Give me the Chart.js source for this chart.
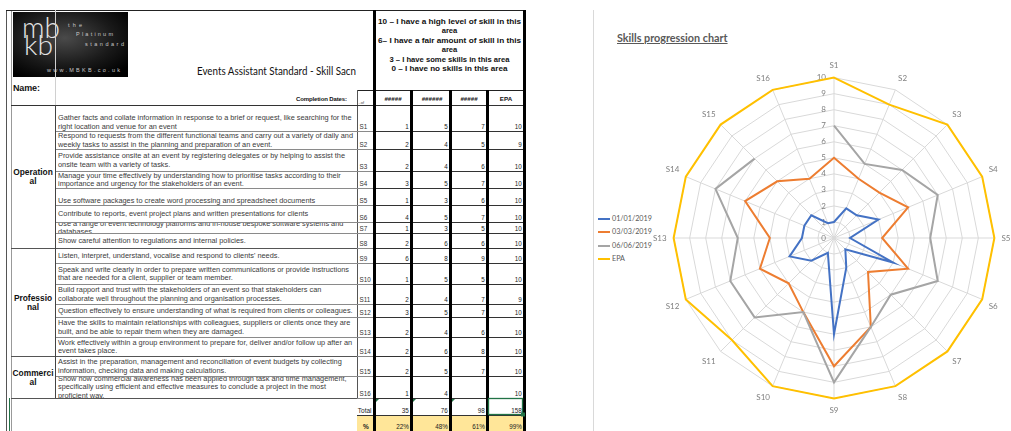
<!DOCTYPE html>
<html>
<head>
<meta charset="utf-8">
<title>Events Assistant Standard - Skill Scan</title>
<script src="https://cdn.jsdelivr.net/npm/chart.js@4.4.1/dist/chart.umd.min.js"></script>
<style>
  html, body { margin: 0; padding: 0; background: #fff; }
  body { width: 1011px; height: 431px; position: relative; overflow: hidden; }
  #sheet { position: absolute; left: 0; top: 0; }
  #panelEdge { position: absolute; left: 593px; top: 10px; width: 1px; height: 421px; background: #d9d9d9; }
  #chartTitle { position: absolute; left: 617px; top: 31px; font: bold 10.8px Lato, sans-serif; color: #595959; text-decoration: underline; white-space: nowrap; }
  #legend { position: absolute; left: 598px; top: 211.5px; font: 7.2px Lato, sans-serif; color: #595959; }
  #legend div { height: 13.5px; line-height: 13.5px; white-space: nowrap; position: relative; padding-left: 14px; }
  #legend span { position: absolute; left: 0; top: 6px; width: 12px; height: 2px; }
  #radar { position: absolute; left: 594px; top: 10px; }
</style>
</head>
<body>
<svg id="sheet" width="590" height="431" xmlns="http://www.w3.org/2000/svg">
  <defs>
    <radialGradient id="logoBg" cx="45%" cy="40%" r="70%">
      <stop offset="0" stop-color="#4a4a4a"/>
      <stop offset="0.6" stop-color="#1a1a1a"/>
      <stop offset="1" stop-color="#000"/>
    </radialGradient>
  </defs>
</svg>
<div id="panelEdge"></div>
<div id="chartTitle">Skills progression chart</div>
<div id="legend"></div>
<canvas id="radar" width="419" height="421"></canvas>

<script>
// ---- data ----
const skills = ['S1', 'S2', 'S3', 'S4', 'S5', 'S6', 'S7', 'S8', 'S9', 'S10', 'S11', 'S12', 'S13', 'S14', 'S15', 'S16'];
const descriptions = [
  '\nGather facts and collate information in response to a brief or request, like searching for the\nright location and venue for an event',
  'Respond to requests from the different functional teams and carry out a variety of daily and\nweekly tasks to assist in the planning and preparation of an event.',
  'Provide assistance onsite at an event by registering delegates or by helping to assist the\nonsite team with a variety of tasks.',
  'Manage your time effectively by understanding how to prioritise tasks according to their\nimportance and urgency for the stakeholders of an event.',
  '\nUse software packages to create word processing and spreadsheet documents',
  'Contribute to reports, event project plans and written presentations for clients',
  'Use a range of event technology platforms and in-house bespoke software systems and\ndatabases',
  'Show careful attention to regulations and internal policies.',
  'Listen, interpret, understand, vocalise and respond to clients\' needs.',
  'Speak and write clearly in order to prepare written communications or provide instructions\nthat are needed for a client, supplier or team member.',
  'Build rapport and trust with the stakeholders of an event so that stakeholders can\ncollaborate well throughout the planning and organisation processes.',
  'Question effectively to ensure understanding of what is required from clients or colleagues.',
  'Have the skills to maintain relationships with colleagues, suppliers or clients once they are\nbuilt, and be able to repair them when they are damaged.',
  'Work effectively within a group environment to prepare for, deliver and/or follow up after an\nevent takes place.',
  'Assist in the preparation, management and reconciliation of event budgets by collecting\ninformation, checking data and making calculations.',
  'Show how commercial awareness has been applied through task and time management,\nspecifically using efficient and effective measures to conclude a project in the most\nproficient way.'
];
const categories = ['Operation\nal', 'Professio\nnal', 'Commerci\nal'];
const categorySizes = [8, 6, 2];

const seriesNames = ['01/01/2019', '03/03/2019', '06/06/2019', 'EPA'];
const scoresJan = [1, 2, 2, 3, 1, 4, 1, 2, 6, 1, 2, 3, 2, 2, 2, 1];
const scoresMar = [5, 4, 4, 5, 3, 5, 3, 6, 8, 5, 4, 5, 4, 6, 5, 4];
const scoresJun = [7, 5, 6, 7, 6, 7, 5, 6, 9, 5, 7, 7, 6, 8, 7, null];
const scoresEPA = [10, 9, 10, 10, 10, 10, 10, 10, 10, 10, 9, 10, 10, 10, 10, 10];
const tickLabels = [0, 1, 2, 3, 4, 5, 6, 7, 8, 9, 10];
const maxScore = 10;

const seriesValues = [scoresJan, scoresMar, scoresJun, scoresEPA];
const seriesColors = ['#4472C4', '#ED7D31', '#A5A5A5', '#FFC000'];

// ---- spreadsheet (left side) ----
const NS = 'http://www.w3.org/2000/svg';
const sheet = document.getElementById('sheet');
function add(parent, tag, attrs, txt) {
  const e = document.createElementNS(NS, tag);
  for (const k in attrs) e.setAttribute(k, attrs[k]);
  if (txt != null) e.textContent = txt;
  parent.appendChild(e);
  return e;
}
function hline(x1, x2, y, c, t) { add(sheet, 'rect', {x: x1, y: y, width: x2 - x1, height: t || 1, fill: c}); }
function vline(x, y1, y2, c, t) { add(sheet, 'rect', {x: x, y: y1, width: t || 1, height: y2 - y1, fill: c}); }
function text(parent, x, y, s, a) {
  const attrs = Object.assign({x: x, y: y, 'font-family': 'Liberation Sans, Arial, sans-serif', 'font-size': 7, fill: '#222'}, a || {});
  return add(parent, 'text', attrs, s);
}

const rowEdges = [105, 131, 149, 171, 188, 205, 222, 233, 248, 263, 284, 304, 317, 337, 356, 376, 398];
const colRight = [410, 449, 486, 523];

// logo
add(sheet, 'rect', {x: 13, y: 12, width: 115, height: 65, fill: 'url(#logoBg)'});
text(sheet, 22, 38, 'mb', {'font-family': 'Lato', 'font-weight': 300, 'font-size': 30, fill: '#e4e4e4', textLength: 38, lengthAdjust: 'spacingAndGlyphs'});
text(sheet, 24, 55, 'kb', {'font-family': 'Lato', 'font-weight': 300, 'font-size': 28, fill: '#e4e4e4', textLength: 29, lengthAdjust: 'spacingAndGlyphs'});
text(sheet, 68, 27, 'the', {'font-size': 5.5, fill: '#c8c8c8', textLength: 14});
text(sheet, 76, 36, 'Platinum', {'font-size': 5.5, fill: '#c8c8c8', textLength: 37});
text(sheet, 85, 45.5, 'standard', {'font-size': 5.5, fill: '#c8c8c8', textLength: 39});
text(sheet, 47, 71.5, 'www.MBKB.co.uk', {'font-size': 5.5, fill: '#c8c8c8', textLength: 73});

// outer frame and header
vline(6, 10, 431, '#555');
vline(11, 10, 431, '#999');
hline(6, 526, 10, '#222');
vline(55, 10, 105, '#d0d0d0');
text(sheet, 197, 75, 'Events Assistant Standard - Skill Sacn', {'font-family': 'Lato', 'font-size': 10.5, fill: '#111', textLength: 159, lengthAdjust: 'spacingAndGlyphs'});
text(sheet, 13, 90.5, 'Name:', {'font-weight': 'bold', 'font-size': 9, fill: '#111', textLength: 27});
text(sheet, 296, 101, 'Completion Dates:', {'font-weight': 'bold', 'font-size': 6, fill: '#111', textLength: 51});

const keyLines = ['10 \u2013 I have a high level of skill in this', 'area', '6\u2013 I have a fair amount of skill in this', 'area', '3 \u2013 I have some skills in this area', '0 \u2013 I have no skills in this area'];
const keyWidths = [143, null, 143, null, 120, 116];
const keyY = [21.5, 30.5, 40.5, 49.5, 59, 68];
keyLines.forEach((s, k) => {
  const a = {'font-weight': 'bold', 'font-size': 7.6, 'text-anchor': 'middle', fill: '#111'};
  if (keyWidths[k]) { a.textLength = keyWidths[k]; a.lengthAdjust = 'spacingAndGlyphs'; }
  text(sheet, 449.5, keyY[k] + 2.7, s, a);
});

hline(357, 526, 90, '#222');
vline(357, 90, 398, '#555');
text(sheet, 358.5, 103.5, '..of', {'font-size': 4, fill: '#444'});
const dateHeads = ['#####', '######', '#####', 'EPA'];
colRight.forEach((r, c) => {
  text(sheet, r - 17, 101, dateHeads[c], {'font-weight': 'bold', 'font-size': 6.2, 'text-anchor': 'middle', fill: '#111'});
});
hline(11, 526, 105, '#333');

// rows
const groupEnds = [];
let acc = 0;
categorySizes.forEach(n => { acc += n; groupEnds.push(acc); });

skills.forEach((code, i) => {
  const top = rowEdges[i], bot = rowEdges[i + 1];
  const clip = add(sheet.querySelector('defs'), 'clipPath', {id: 'rc' + i});
  add(clip, 'rect', {x: 55, y: top + 1, width: 302, height: bot - top - 1});
  const cell = add(sheet, 'g', {'clip-path': 'url(#rc' + i + ')'});
  const lines = descriptions[i].split('\n');
  const mid = (top + bot) / 2;
  lines.forEach((ln, k) => {
    const cy = mid + (k - (lines.length - 1) / 2) * 8.4;
    if (ln) text(cell, 58, cy + 2.4, ln, {'font-size': 7.35, fill: '#3a3a3a'});
  });
  text(sheet, 359.5, bot - 1.8, code, {'font-size': 6.3, fill: '#333'});
  seriesValues.forEach((vals, c) => {
    if (vals[i] != null) text(sheet, colRight[c] - 1.2, bot - 1.8, String(vals[i]), {'font-size': 6.3, 'text-anchor': 'end', fill: '#222'});
  });
  const isGroupEnd = groupEnds.includes(i + 1);
  hline(isGroupEnd ? 11 : 55, 357, bot, isGroupEnd ? '#555' : '#8a8a8a');
  hline(357, 373, bot, '#8a8a8a');
  hline(373, 526, bot, '#333');
});
vline(55, 105, 398, '#444');

// category labels
let start = 0;
categories.forEach((name, g) => {
  const top = rowEdges[start], bot = rowEdges[start + categorySizes[g]];
  const parts = name.split('\n');
  parts.forEach((p, k) => {
    const cy = (top + bot) / 2 + (k - (parts.length - 1) / 2) * 9;
    text(sheet, 33, cy + 3, p, {'font-weight': 'bold', 'font-size': 8.4, 'text-anchor': 'middle', fill: '#111'});
  });
  start += categorySizes[g];
});

// totals
add(sheet, 'rect', {x: 357, y: 415, width: 169, height: 16, fill: '#FFE699'});
hline(357, 526, 415, '#333');
text(sheet, 371.5, 412.5, 'Total', {'font-size': 6.5, 'text-anchor': 'end', fill: '#222'});
text(sheet, 366, 428.5, '%', {'font-size': 6.5, 'text-anchor': 'middle', fill: '#222', 'font-weight': 'bold'});
seriesValues.forEach((vals, c) => {
  const sum = vals.reduce((a, v) => a + (v || 0), 0);
  const pct = Math.round(sum / (skills.length * maxScore) * 100) + '%';
  text(sheet, colRight[c] - 1.2, 412.5, String(sum), {'font-size': 6.3, 'text-anchor': 'end', fill: '#222'});
  text(sheet, colRight[c] - 1.2, 428.5, pct, {'font-size': 6.3, 'text-anchor': 'end', fill: '#222'});
});
vline(9, 398, 431, '#217346');

// thick column rules: outer ones run the full height, inner ones start at the dates row
vline(373, 10, 431, '#000', 3);
vline(523, 10, 431, '#000', 3);
[410, 449, 486].forEach(x => vline(x, 90, 431, '#000', 3));

// small error markers and the selected cell
[376, 413, 452].forEach(x => add(sheet, 'polygon', {points: `${x},399 ${x + 3},399 ${x},402`, fill: '#217346'}));
add(sheet, 'rect', {x: 488.5, y: 398.5, width: 34, height: 16, fill: 'none', stroke: '#217346', 'stroke-width': 1.3});
add(sheet, 'rect', {x: 521, y: 412.5, width: 4, height: 4, fill: '#217346'});

// ---- legend ----
const legend = document.getElementById('legend');
seriesNames.forEach((n, i) => {
  const row = document.createElement('div');
  row.innerHTML = '<span style="background:' + seriesColors[i] + '"></span>' + n;
  legend.appendChild(row);
});

// ---- radar chart ----
const tickLabelPlugin = {
  id: 'tickLabelPlugin',
  beforeDatasetsDraw(chart) {
    const r = chart.scales.r;
    const ctx = chart.ctx;
    ctx.save();
    ctx.font = '8px Lato';
    ctx.fillStyle = '#7f7f7f';
    ctx.textAlign = 'right';
    ctx.textBaseline = 'middle';
    tickLabels.forEach(v => {
      ctx.fillText(String(v), r.xCenter - 8, r.yCenter - r.getDistanceFromCenterForValue(v));
    });
    ctx.restore();
  }
};

new Chart(document.getElementById('radar'), {
  type: 'radar',
  data: {
    labels: skills,
    datasets: seriesNames.map((name, i) => ({
      label: name,
      data: seriesValues[i],
      borderColor: seriesColors[i],
      backgroundColor: seriesColors[i],
      borderWidth: 2,
      pointRadius: 0,
      fill: false,
      spanGaps: false,
      order: seriesNames.length - i
    }))
  },
  options: {
    responsive: false,
    animation: false,
    devicePixelRatio: 1,
    layout: { padding: { left: 57, right: 0, top: 37, bottom: 0 } },
    plugins: { legend: { display: false }, tooltip: { enabled: false } },
    scales: {
      r: {
        min: 0,
        max: maxScore,
        ticks: { stepSize: 1, display: false },
        grid: { color: '#d9d9d9', circular: false },
        angleLines: { color: '#d9d9d9' },
        pointLabels: { color: '#7f7f7f', font: { family: 'Lato', size: 8 }, padding: 7 }
      }
    }
  },
  plugins: [tickLabelPlugin]
});
</script>
</body>
</html>
